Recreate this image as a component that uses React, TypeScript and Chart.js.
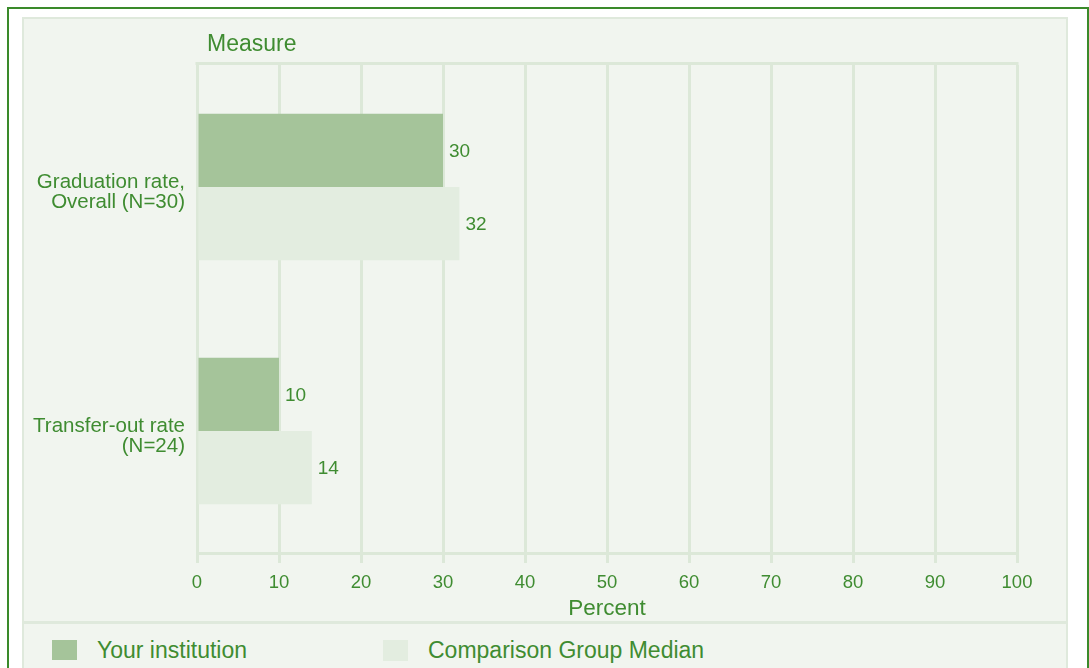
import React, { useEffect, useRef } from "react";
import { Chart, registerables } from "chart.js";

Chart.register(...registerables);

const categories: string[][] = [
  ["Graduation rate,", "Overall (N=30)"],
  ["Transfer-out rate", "(N=24)"],
];
const seriesNames = ["Your institution", "Comparison Group Median"];
const yourInstitution = [30, 10];
const comparisonMedian = [32, 14];
const xTicks = [0, 10, 20, 30, 40, 50, 60, 70, 80, 90, 100];
const yTitle = "Measure";
const xTitle = "Percent";

const GREEN_TEXT = "#3f8c31";
const GRID = "#dce8d8";
const COLOR_YOUR = "#a5c49a";
const COLOR_COMP = "#e3ede0";
const FONT = "'Liberation Sans', Arial, sans-serif";

const valueLabels = {
  id: "valueLabels",
  afterDatasetsDraw(chart: any) {
    const ctx = chart.ctx;
    ctx.save();
    ctx.fillStyle = GREEN_TEXT;
    ctx.font = `19px ${FONT}`;
    ctx.textBaseline = "middle";
    ctx.textAlign = "left";
    chart.data.datasets.forEach((ds: any, i: number) => {
      const meta = chart.getDatasetMeta(i);
      meta.data.forEach((el: any, j: number) => {
        ctx.fillText(String(ds.data[j]), el.x + 6, el.y + 1);
      });
    });
    ctx.restore();
  },
};

const topBorder = {
  id: "topBorder",
  beforeDatasetsDraw(chart: any) {
    const { ctx, chartArea } = chart;
    ctx.save();
    ctx.strokeStyle = GRID;
    ctx.lineWidth = 3;
    ctx.beginPath();
    ctx.moveTo(chartArea.left - 1.5, chartArea.top - 1.5);
    ctx.lineTo(chartArea.right + 1.5, chartArea.top - 1.5);
    ctx.stroke();
    ctx.restore();
  },
};

export default function App() {
  const ref = useRef<HTMLCanvasElement>(null);

  useEffect(() => {
    if (!ref.current) return;
    const chart = new Chart(ref.current, {
      type: "bar",
      data: {
        labels: categories,
        datasets: [
          {
            label: seriesNames[0],
            data: yourInstitution,
            backgroundColor: COLOR_YOUR,
            categoryPercentage: 0.6,
            barPercentage: 1.0,
          },
          {
            label: seriesNames[1],
            data: comparisonMedian,
            backgroundColor: COLOR_COMP,
            categoryPercentage: 0.6,
            barPercentage: 1.0,
          },
        ],
      },
      options: {
        indexAxis: "y",
        animation: false,
        responsive: false,
        maintainAspectRatio: false,
        layout: { padding: { top: 46, right: 49, left: 0, bottom: 0 } },
        plugins: {
          legend: { display: false },
          tooltip: { enabled: false },
        },
        scales: {
          x: {
            min: 0,
            max: 100,
            afterBuildTicks: (s: any) => {
              s.ticks = xTicks.map((v) => ({ value: v }));
            },
            afterFit: (s: any) => {
              s.height = 67;
            },
            grid: {
              color: GRID,
              lineWidth: 3,
              tickLength: 10,
              drawTicks: true,
            },
            border: { color: GRID, width: 3 },
            ticks: {
              color: GREEN_TEXT,
              font: { family: FONT, size: 18.5 },
              padding: 9,
              maxRotation: 0,
              autoSkip: false,
            },
            title: {
              display: true,
              text: xTitle,
              color: GREEN_TEXT,
              font: { family: FONT, size: 22.5, lineHeight: 1.0 },
              padding: { top: 0, bottom: 0 },
            },
          },
          y: {
            afterFit: (s: any) => {
              s.width = 173;
            },
            grid: { display: false, drawTicks: false, tickLength: 0 },
            border: { display: false },
            ticks: {
              color: GREEN_TEXT,
              font: { family: FONT, size: 20.5, lineHeight: 0.98 },
              padding: 12,
              labelOffset: 5,
            },
          },
        },
      },
      plugins: [topBorder, valueLabels],
    });
    return () => chart.destroy();
  }, []);

  const textStyle: React.CSSProperties = {
    position: "absolute",
    color: GREEN_TEXT,
    fontFamily: FONT,
    whiteSpace: "nowrap",
    fontSize: 23,
    lineHeight: "26px",
  };

  return (
    <div
      style={{
        position: "fixed",
        left: 0,
        top: 0,
        width: 1089,
        height: 668,
        overflow: "hidden",
        background: "#ffffff",
      }}
    >
      <div
        style={{
          position: "absolute",
          left: 7,
          top: 7,
          width: 1078,
          height: 800,
          border: "2px solid #3a8a2a",
          background: "#ffffff",
        }}
      />
      <div
        style={{
          position: "absolute",
          left: 22,
          top: 17,
          width: 1042,
          height: 800,
          border: "2px solid #dfe9dc",
          background: "#f1f5ef",
        }}
      />
      <div
        style={{
          position: "absolute",
          left: 24,
          top: 621,
          width: 1042,
          height: 3,
          background: "#dfe9dc",
        }}
      />
      <canvas
        ref={ref}
        width={1042}
        height={601}
        style={{ position: "absolute", left: 24, top: 19, width: 1042, height: 601 }}
      />
      <div style={{ ...textStyle, left: 207, top: 30 }}>{yTitle}</div>
      <div style={{ position: "absolute", left: 52, top: 640, width: 25, height: 20, background: COLOR_YOUR }} />
      <div style={{ ...textStyle, left: 97, top: 637 }}>{seriesNames[0]}</div>
      <div style={{ position: "absolute", left: 383, top: 640, width: 25, height: 21, background: COLOR_COMP }} />
      <div style={{ ...textStyle, left: 428, top: 637 }}>{seriesNames[1]}</div>
    </div>
  );
}
